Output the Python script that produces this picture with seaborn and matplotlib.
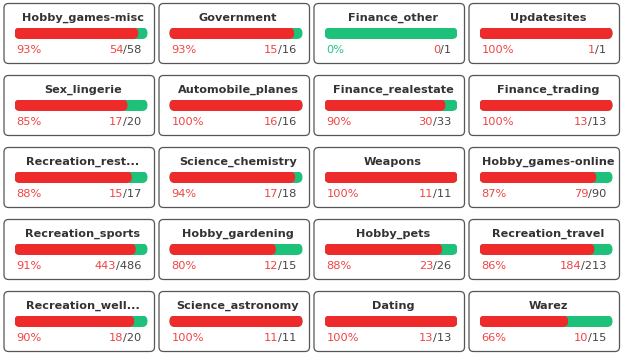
import matplotlib
matplotlib.use("Agg")
import matplotlib.pyplot as plt
from matplotlib.patches import FancyBboxPatch
import seaborn as sns
import pandas as pd

titles = ["Hobby_games-misc", "Government", "Finance_other", "Updatesites",
          "Sex_lingerie", "Automobile_planes", "Finance_realestate", "Finance_trading",
          "Recreation_rest...", "Science_chemistry", "Weapons", "Hobby_games-online",
          "Recreation_sports", "Hobby_gardening", "Hobby_pets", "Recreation_travel",
          "Recreation_well...", "Science_astronomy", "Dating", "Warez"]
passed = [54, 15, 0, 1,
          17, 16, 30, 13,
          15, 17, 11, 79,
          443, 12, 23, 184,
          18, 11, 13, 10]
totals = [58, 16, 1, 1,
          20, 16, 33, 13,
          17, 18, 11, 90,
          486, 15, 26, 213,
          20, 11, 13, 15]
pct_labels = ["93%", "93%", "0%", "100%",
              "85%", "100%", "90%", "100%",
              "88%", "94%", "100%", "87%",
              "91%", "80%", "88%", "86%",
              "90%", "100%", "100%", "66%"]

RED = "#EE2A2A"
GREEN = "#1EC17A"
RED_TXT = "#F04444"
GREEN_TXT = "#25C384"
GRAY_TXT = "#454545"
TITLE_C = "#333333"

W, H = 623, 358
fig = plt.figure(figsize=(W / 100, H / 100), dpi=100)
bg = fig.add_axes([0, 0, 1, 1])
bg.set_xlim(0, W)
bg.set_ylim(H, 0)
bg.set_axis_off()

card_w, card_h = 150.5, 60
bar_w, bar_h = 133, 11.5
renderer = fig.canvas.get_renderer()

for i, t in enumerate(titles):
    col, row = i % 4, i // 4
    cx = 4 + 155 * col
    cy = 3.5 + 72 * row
    bg.add_patch(FancyBboxPatch((cx, cy), card_w, card_h,
                                boxstyle="round,pad=0,rounding_size=4.5",
                                fc="white", ec="#555555", lw=0.9, zorder=1))
    bx = cx + 10.5
    by = cy + 24
    ax = fig.add_axes([bx / W, 1 - (by + bar_h) / H, bar_w / W, bar_h / H])
    df = pd.DataFrame({"cat": ["a"], "total": [totals[i]], "passed": [passed[i]]})
    sns.barplot(data=df, x="total", y="cat", orient="h", ax=ax, color=GREEN,
                width=1, linewidth=0, saturation=1)
    if passed[i] > 0:
        sns.barplot(data=df, x="passed", y="cat", orient="h", ax=ax, color=RED,
                    width=1, linewidth=0, saturation=1)
    ax.set_xlim(0, totals[i])
    ax.set_ylim(0.5, -0.5)
    ax.set_axis_off()
    # round the bars
    xpp = totals[i] / bar_w
    ypp = 1.0 / bar_h
    r_px = 5.6
    for p in list(ax.patches):
        x0, y0 = p.get_x(), p.get_y()
        w, h = p.get_width(), p.get_height()
        fc = p.get_facecolor()
        p.remove()
        if w <= 0:
            continue
        ax.add_patch(FancyBboxPatch((x0, y0), w, h,
                                    boxstyle=f"round,pad=0,rounding_size={r_px * xpp}",
                                    mutation_aspect=ypp / xpp, fc=fc, ec="none"))
    # texts
    bg.text(bx + bar_w / 2 + 2, cy + 17.2, t, ha="center", va="baseline",
            fontsize=8.1, fontweight="bold", color=TITLE_C, zorder=3)
    pc = GREEN_TXT if passed[i] == 0 else RED_TXT
    bg.text(bx + 2, cy + 49.2, pct_labels[i], ha="left", va="baseline",
            fontsize=8.2, color=pc, zorder=3)
    tden = bg.text(bx + bar_w - 6, cy + 49.2, f"/{totals[i]}", ha="right", va="baseline",
                   fontsize=8.2, color=GRAY_TXT, zorder=3)
    ext = tden.get_window_extent(renderer)
    left_px = ext.x0
    bg.text(left_px, cy + 49.2, f"{passed[i]}", ha="right", va="baseline",
            fontsize=8.2, color=RED_TXT, zorder=3)

fig.savefig("out.png", dpi=100)
